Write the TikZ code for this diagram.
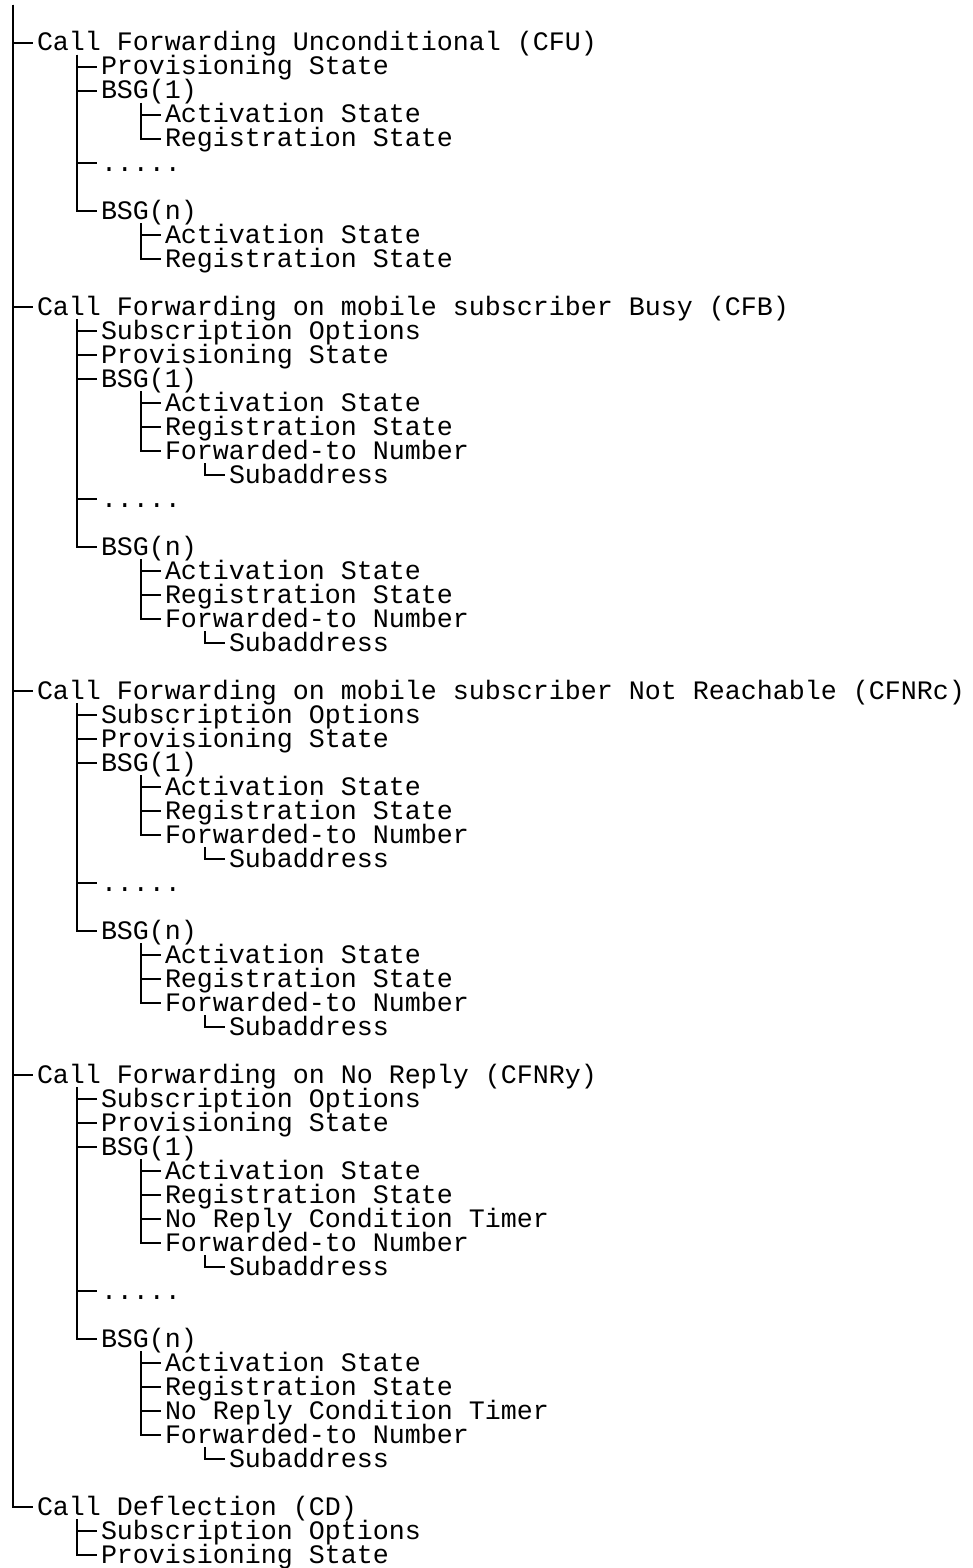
\documentclass[tikz,border=0pt]{standalone}
\usepackage{fontspec}
\setmonofont{Liberation Mono}
\begin{document}
\begin{tikzpicture}[x=0.5pt,y=-0.5pt,
  item/.style={anchor=base west,inner sep=0pt,outer sep=0pt,
    font=\ttfamily\fontsize{13.33pt}{16pt}\selectfont},
  conn/.style={line width=1pt,line join=miter,black}]
\useasboundingbox (0,0) rectangle (973,1568);
\newcommand\tn[4]{\node[item] (#1) at ({16*#2+5},{24*#3+3}) {#4};}
\newcommand\lk[2]{\draw[conn] ([shift={(40,4)}]#1.base west) |- ([shift={(-4,-8)}]#2.base west);}
\coordinate (top) at (13,5);
% ---- CFU
\tn{cfu}{2}{2}{Call Forwarding Unconditional (CFU)}
\tn{cfuprov}{6}{3}{Provisioning State}
\tn{cfuba}{6}{4}{BSG(1)}
\tn{cfubaact}{10}{5}{Activation State}
\tn{cfubareg}{10}{6}{Registration State}
\tn{cfudots}{6}{7}{.....}
\tn{cfubn}{6}{9}{BSG(n)}
\tn{cfubnact}{10}{10}{Activation State}
\tn{cfubnreg}{10}{11}{Registration State}
% ---- CFB
\tn{cfb}{2}{13}{Call Forwarding on mobile subscriber Busy (CFB)}
\tn{cfbsub}{6}{14}{Subscription Options}
\tn{cfbprov}{6}{15}{Provisioning State}
\tn{cfbba}{6}{16}{BSG(1)}
\tn{cfbbaact}{10}{17}{Activation State}
\tn{cfbbareg}{10}{18}{Registration State}
\tn{cfbbafwd}{10}{19}{Forwarded-to Number}
\tn{cfbbasa}{14}{20}{Subaddress}
\tn{cfbdots}{6}{21}{.....}
\tn{cfbbn}{6}{23}{BSG(n)}
\tn{cfbbnact}{10}{24}{Activation State}
\tn{cfbbnreg}{10}{25}{Registration State}
\tn{cfbbnfwd}{10}{26}{Forwarded-to Number}
\tn{cfbbnsa}{14}{27}{Subaddress}
% ---- CFNRc
\tn{nrc}{2}{29}{Call Forwarding on mobile subscriber Not Reachable (CFNRc)}
\tn{nrcsub}{6}{30}{Subscription Options}
\tn{nrcprov}{6}{31}{Provisioning State}
\tn{nrcba}{6}{32}{BSG(1)}
\tn{nrcbaact}{10}{33}{Activation State}
\tn{nrcbareg}{10}{34}{Registration State}
\tn{nrcbafwd}{10}{35}{Forwarded-to Number}
\tn{nrcbasa}{14}{36}{Subaddress}
\tn{nrcdots}{6}{37}{.....}
\tn{nrcbn}{6}{39}{BSG(n)}
\tn{nrcbnact}{10}{40}{Activation State}
\tn{nrcbnreg}{10}{41}{Registration State}
\tn{nrcbnfwd}{10}{42}{Forwarded-to Number}
\tn{nrcbnsa}{14}{43}{Subaddress}
% ---- CFNRy
\tn{nry}{2}{45}{Call Forwarding on No Reply (CFNRy)}
\tn{nrysub}{6}{46}{Subscription Options}
\tn{nryprov}{6}{47}{Provisioning State}
\tn{nryba}{6}{48}{BSG(1)}
\tn{nrybaact}{10}{49}{Activation State}
\tn{nrybareg}{10}{50}{Registration State}
\tn{nrybatim}{10}{51}{No Reply Condition Timer}
\tn{nrybafwd}{10}{52}{Forwarded-to Number}
\tn{nrybasa}{14}{53}{Subaddress}
\tn{nrydots}{6}{54}{.....}
\tn{nrybn}{6}{56}{BSG(n)}
\tn{nrybnact}{10}{57}{Activation State}
\tn{nrybnreg}{10}{58}{Registration State}
\tn{nrybntim}{10}{59}{No Reply Condition Timer}
\tn{nrybnfwd}{10}{60}{Forwarded-to Number}
\tn{nrybnsa}{14}{61}{Subaddress}
% ---- CD
\tn{cd}{2}{63}{Call Deflection (CD)}
\tn{cdsub}{6}{64}{Subscription Options}
\tn{cdprov}{6}{65}{Provisioning State}
% ---- connectors
\foreach \c in {cfu,cfb,nrc,nry,cd}{
  \draw[conn] (top) |- ([shift={(-4,-8)}]\c.base west);
}
\lk{cfu}{cfuprov}\lk{cfu}{cfuba}\lk{cfu}{cfudots}\lk{cfu}{cfubn}
\lk{cfuba}{cfubaact}\lk{cfuba}{cfubareg}
\lk{cfubn}{cfubnact}\lk{cfubn}{cfubnreg}
\lk{cfb}{cfbsub}\lk{cfb}{cfbprov}\lk{cfb}{cfbba}\lk{cfb}{cfbdots}\lk{cfb}{cfbbn}
\lk{cfbba}{cfbbaact}\lk{cfbba}{cfbbareg}\lk{cfbba}{cfbbafwd}\lk{cfbbafwd}{cfbbasa}
\lk{cfbbn}{cfbbnact}\lk{cfbbn}{cfbbnreg}\lk{cfbbn}{cfbbnfwd}\lk{cfbbnfwd}{cfbbnsa}
\lk{nrc}{nrcsub}\lk{nrc}{nrcprov}\lk{nrc}{nrcba}\lk{nrc}{nrcdots}\lk{nrc}{nrcbn}
\lk{nrcba}{nrcbaact}\lk{nrcba}{nrcbareg}\lk{nrcba}{nrcbafwd}\lk{nrcbafwd}{nrcbasa}
\lk{nrcbn}{nrcbnact}\lk{nrcbn}{nrcbnreg}\lk{nrcbn}{nrcbnfwd}\lk{nrcbnfwd}{nrcbnsa}
\lk{nry}{nrysub}\lk{nry}{nryprov}\lk{nry}{nryba}\lk{nry}{nrydots}\lk{nry}{nrybn}
\lk{nryba}{nrybaact}\lk{nryba}{nrybareg}\lk{nryba}{nrybatim}\lk{nryba}{nrybafwd}\lk{nrybafwd}{nrybasa}
\lk{nrybn}{nrybnact}\lk{nrybn}{nrybnreg}\lk{nrybn}{nrybntim}\lk{nrybn}{nrybnfwd}\lk{nrybnfwd}{nrybnsa}
\lk{cd}{cdsub}\lk{cd}{cdprov}
\end{tikzpicture}
\end{document}
